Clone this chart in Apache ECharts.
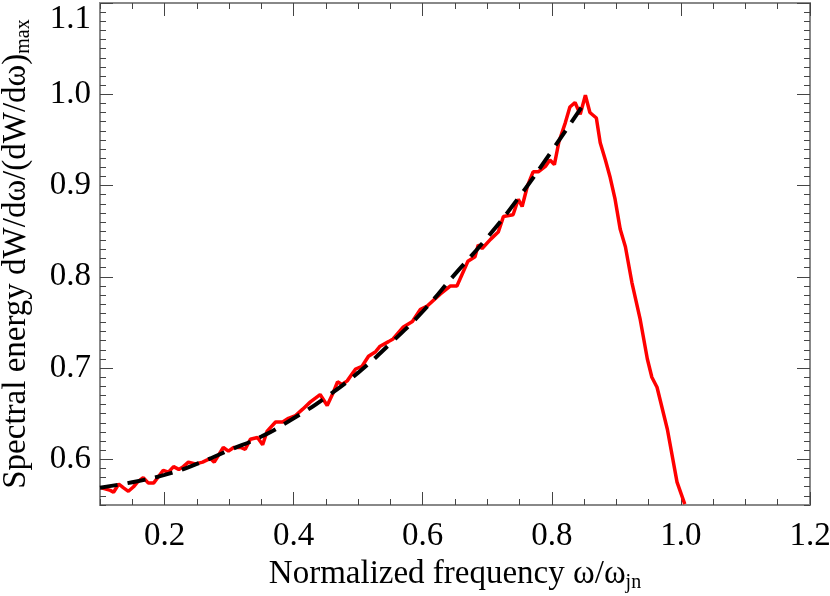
<!DOCTYPE html>
<html>
  <head>
    <meta charset="utf-8">
    <title>Spectral energy</title>
    <script src="https://cdn.jsdelivr.net/npm/echarts@6/dist/echarts.min.js"></script>
  </head>
  <body style="margin:0">
    <div id="main" style="width:830px;height:596px;"></div>
    <script>
// measured spectrum (red)
var freq = [0.101,0.116,0.121,0.129,0.136,0.144,0.152,0.158,0.167,0.175,
  0.183,0.198,0.206,0.214,0.222,0.229,0.237,0.248,0.259,0.271,
  0.277,0.291,0.299,0.307,0.318,0.325,0.333,0.344,0.352,0.359,
  0.372,0.383,0.392,0.403,0.414,0.426,0.441,0.452,0.460,0.468,
  0.475,0.483,0.496,0.506,0.516,0.527,0.534,0.547,0.554,0.570,
  0.584,0.596,0.607,0.627,0.643,0.653,0.670,0.681,0.686,0.692,
  0.705,0.717,0.725,0.740,0.748,0.754,0.762,0.771,0.779,0.790,
  0.797,0.804,0.811,0.821,0.828,0.836,0.844,0.852,0.859,0.869,
  0.875,0.883,0.890,0.898,0.906,0.914,0.924,0.937,0.948,0.955,
  0.963,0.979,0.994,1.006];
var energy = [0.569,0.566,0.564,0.573,0.569,0.565,0.570,0.575,0.580,0.574,
  0.574,0.588,0.586,0.592,0.589,0.592,0.597,0.595,0.597,0.601,
  0.597,0.613,0.609,0.613,0.613,0.611,0.622,0.624,0.616,0.631,
  0.641,0.641,0.645,0.648,0.655,0.663,0.671,0.659,0.671,0.685,
  0.682,0.686,0.699,0.702,0.713,0.718,0.724,0.729,0.732,0.745,
  0.751,0.764,0.768,0.781,0.790,0.790,0.817,0.822,0.835,0.831,
  0.841,0.849,0.866,0.868,0.885,0.877,0.899,0.915,0.915,0.921,
  0.928,0.923,0.948,0.969,0.986,0.991,0.978,0.999,0.980,0.974,
  0.947,0.928,0.910,0.885,0.852,0.833,0.794,0.753,0.710,0.690,
  0.679,0.633,0.575,0.551];
// fitted curve (black dashed)
var fitFreq = [0.10,0.15,0.20,0.25,0.30,0.35,0.40,0.45,0.50,0.55,0.60,0.65,0.70,0.75,0.80,0.85];
var fitEnergy = [0.569,0.575,0.583,0.595,0.610,0.625,0.645,0.668,0.695,0.727,0.762,0.803,0.843,0.888,0.938,0.990];
var xMajor = [0.2,0.4,0.6,0.8,1.0,1.2];
var yMajor = [0.6,0.7,0.8,0.9,1.0,1.1];

var font = 'Liberation Serif';
var fs = 33;
var tickColor = '#444';

function zip(a, b) {
  return a.map(function (v, i) { return [v, b[i]]; });
}

function xAx(pos, major) {
  var ax = {
    type: 'value', min: 0.1, max: 1.2, position: pos,
    axisLine: {show: false}, splitLine: {show: false},
    axisLabel: {show: false},
    axisTick: {inside: true, length: 6, lineStyle: {color: tickColor, width: 1}}
  };
  if (major) {
    ax.axisTick = {inside: true, length: 13, customValues: xMajor, lineStyle: {color: tickColor, width: 1}};
    if (pos === 'bottom') {
      ax.axisLabel = {show: true, customValues: xMajor, margin: 15, color: '#000',
        fontFamily: font, fontSize: fs,
        formatter: function (v) { return v.toFixed(1); }};
    }
  } else {
    ax.interval = 0.05;
  }
  return ax;
}

function yAx(pos, major) {
  var ax = {
    type: 'value', min: 0.55, max: 1.1, position: pos,
    axisLine: {show: false}, splitLine: {show: false},
    axisLabel: {show: false},
    axisTick: {inside: true, length: 6, lineStyle: {color: tickColor, width: 1}}
  };
  if (major) {
    ax.axisTick = {inside: true, length: 13, customValues: yMajor, lineStyle: {color: tickColor, width: 1}};
    if (pos === 'left') {
      ax.axisLabel = {show: true, customValues: yMajor, margin: 9, color: '#000',
        fontFamily: font, fontSize: fs, verticalAlignMaxLabel: 'top',
        formatter: function (v) { return v.toFixed(1); }};
    }
  } else {
    ax.interval = 0.01;
  }
  return ax;
}

var titleRich = {
  a: {fontFamily: font, fontSize: fs, color: '#000'},
  s: {fontFamily: font, fontSize: 20, color: '#000', padding: [16, 0, 0, 0]}
};

var xBottom = xAx('bottom', true);
xBottom.name = '{a|Normalized frequency ω/ω}{s|jn}';
xBottom.nameLocation = 'middle';
xBottom.nameGap = 50;
xBottom.nameTextStyle = {color: '#000', fontFamily: font, fontSize: fs, rich: titleRich};

var yLeft = yAx('left', true);
yLeft.name = '{a|Spectral energy dW/dω/(dW/dω)}{s|max}';
yLeft.nameLocation = 'middle';
yLeft.nameGap = 66;
yLeft.nameTextStyle = {color: '#000', fontFamily: font, fontSize: fs, rich: titleRich};

var myChart = echarts.init(document.getElementById('main'));
myChart.setOption({
  animation: false,
  backgroundColor: '#fff',
  grid: {left: 100, right: 20, top: 3, bottom: 91, show: true,
    containLabel: false, outerBoundsMode: 'none',
    borderColor: '#888', borderWidth: 2, backgroundColor: 'transparent'},
  xAxis: [xAx('bottom', false), xBottom, xAx('top', false), xAx('top', true)],
  yAxis: [yAx('left', false), yLeft, yAx('right', false), yAx('right', true)],
  series: [
    {
      type: 'line', data: zip(freq, energy), showSymbol: false,
      lineStyle: {color: '#ff0000', width: 3.5}, clip: true, z: 2
    },
    {
      type: 'line', data: zip(fitFreq, fitEnergy), showSymbol: false, smooth: true,
      lineStyle: {color: '#000', width: 4, type: [18, 10]}, z: 3
    }
  ]
});
    </script>
  </body>
</html>
